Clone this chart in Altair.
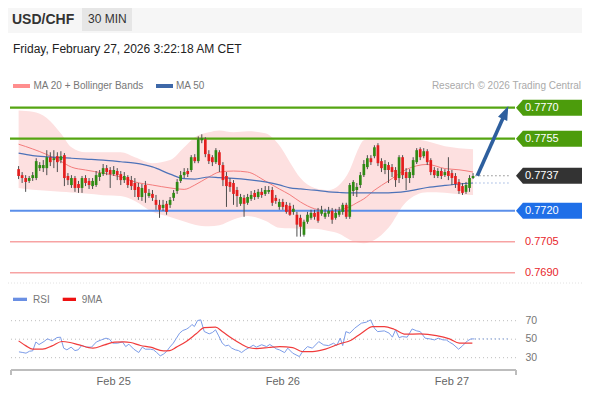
import altair as alt
import pandas as pd

# ---------------- data ----------------
# 30-minute bars; bar position 28 = Feb 25 00:00, 76 = Feb 26, 124 = Feb 27
bar_pos = list(range(1, 131))
opens = [0.77402, 0.77373, 0.77359, 0.77345, 0.77359, 0.77359, 0.77407, 0.77407, 0.77407, 0.77460,
         0.77446, 0.77465, 0.77446, 0.77470, 0.77369, 0.77325, 0.77359, 0.77330, 0.77311, 0.77359,
         0.77345, 0.77320, 0.77325, 0.77364, 0.77378, 0.77407, 0.77398, 0.77378, 0.77393, 0.77378,
         0.77349, 0.77364, 0.77349, 0.77335, 0.77316, 0.77267, 0.77325, 0.77272, 0.77282, 0.77253,
         0.77229, 0.77214, 0.77234, 0.77229, 0.77263, 0.77296, 0.77345, 0.77373, 0.77393, 0.77398,
         0.77460, 0.77441, 0.77542, 0.77547, 0.77475, 0.77460, 0.77436, 0.77484, 0.77422, 0.77369,
         0.77340, 0.77335, 0.77301, 0.77234, 0.77263, 0.77239, 0.77258, 0.77287, 0.77267, 0.77292,
         0.77282, 0.77292, 0.77301, 0.77263, 0.77219, 0.77243, 0.77229, 0.77224, 0.77195, 0.77181,
         0.77166, 0.77084, 0.77147, 0.77166, 0.77190, 0.77195, 0.77186, 0.77171, 0.77186, 0.77200,
         0.77166, 0.77181, 0.77195, 0.77229, 0.77171, 0.77296, 0.77301, 0.77325, 0.77373, 0.77412,
         0.77455, 0.77465, 0.77518, 0.77441, 0.77398, 0.77422, 0.77412, 0.77398, 0.77359, 0.77460,
         0.77388, 0.77359, 0.77373, 0.77436, 0.77499, 0.77465, 0.77489, 0.77446, 0.77398, 0.77369,
         0.77393, 0.77373, 0.77393, 0.77383, 0.77369, 0.77340, 0.77320, 0.77292, 0.77311, 0.77359]
highs = [0.77417, 0.77388, 0.77373, 0.77369, 0.77388, 0.77455, 0.77436, 0.77446, 0.77494, 0.77484,
         0.77494, 0.77484, 0.77489, 0.77480, 0.77383, 0.77373, 0.77369, 0.77345, 0.77369, 0.77373,
         0.77359, 0.77359, 0.77393, 0.77398, 0.77427, 0.77422, 0.77412, 0.77417, 0.77407, 0.77393,
         0.77388, 0.77373, 0.77369, 0.77359, 0.77335, 0.77330, 0.77345, 0.77306, 0.77301, 0.77277,
         0.77253, 0.77253, 0.77248, 0.77267, 0.77301, 0.77354, 0.77393, 0.77407, 0.77407, 0.77470,
         0.77475, 0.77561, 0.77571, 0.77557, 0.77494, 0.77470, 0.77504, 0.77494, 0.77436, 0.77388,
         0.77359, 0.77349, 0.77316, 0.77282, 0.77277, 0.77282, 0.77296, 0.77301, 0.77306, 0.77311,
         0.77320, 0.77320, 0.77316, 0.77277, 0.77258, 0.77258, 0.77243, 0.77239, 0.77229, 0.77195,
         0.77181, 0.77157, 0.77195, 0.77205, 0.77205, 0.77214, 0.77224, 0.77210, 0.77219, 0.77214,
         0.77210, 0.77219, 0.77239, 0.77239, 0.77335, 0.77349, 0.77335, 0.77388, 0.77446, 0.77470,
         0.77470, 0.77518, 0.77528, 0.77455, 0.77446, 0.77436, 0.77427, 0.77412, 0.77470, 0.77470,
         0.77407, 0.77402, 0.77460, 0.77504, 0.77508, 0.77504, 0.77499, 0.77455, 0.77412, 0.77407,
         0.77407, 0.77402, 0.77460, 0.77398, 0.77383, 0.77354, 0.77335, 0.77340, 0.77373, 0.77383]
lows = [0.77354, 0.77335, 0.77292, 0.77335, 0.77345, 0.77349, 0.77393, 0.77388, 0.77373, 0.77417,
        0.77407, 0.77388, 0.77431, 0.77320, 0.77325, 0.77311, 0.77292, 0.77287, 0.77287, 0.77320,
        0.77306, 0.77306, 0.77316, 0.77345, 0.77369, 0.77373, 0.77311, 0.77369, 0.77349, 0.77325,
        0.77335, 0.77311, 0.77301, 0.77267, 0.77253, 0.77248, 0.77239, 0.77263, 0.77248, 0.77205,
        0.77166, 0.77200, 0.77181, 0.77214, 0.77248, 0.77282, 0.77335, 0.77359, 0.77364, 0.77388,
        0.77431, 0.77431, 0.77528, 0.77460, 0.77427, 0.77417, 0.77427, 0.77388, 0.77320, 0.77219,
        0.77292, 0.77229, 0.77219, 0.77224, 0.77171, 0.77229, 0.77248, 0.77253, 0.77258, 0.77263,
        0.77272, 0.77282, 0.77224, 0.77234, 0.77205, 0.77205, 0.77186, 0.77176, 0.77181, 0.77075,
        0.77075, 0.77075, 0.77137, 0.77157, 0.77157, 0.77142, 0.77176, 0.77161, 0.77171, 0.77137,
        0.77157, 0.77171, 0.77181, 0.77161, 0.77161, 0.77272, 0.77267, 0.77311, 0.77364, 0.77402,
        0.77422, 0.77455, 0.77417, 0.77388, 0.77378, 0.77335, 0.77364, 0.77316, 0.77335, 0.77354,
        0.77301, 0.77335, 0.77359, 0.77427, 0.77446, 0.77455, 0.77422, 0.77373, 0.77359, 0.77359,
        0.77354, 0.77364, 0.77349, 0.77325, 0.77311, 0.77282, 0.77277, 0.77282, 0.77292, 0.77354]
closes = [0.77369, 0.77359, 0.77340, 0.77359, 0.77373, 0.77441, 0.77422, 0.77422, 0.77460, 0.77436,
          0.77455, 0.77436, 0.77465, 0.77359, 0.77349, 0.77359, 0.77311, 0.77311, 0.77359, 0.77335,
          0.77325, 0.77345, 0.77373, 0.77383, 0.77407, 0.77388, 0.77378, 0.77398, 0.77373, 0.77349,
          0.77369, 0.77325, 0.77320, 0.77301, 0.77267, 0.77311, 0.77287, 0.77287, 0.77263, 0.77229,
          0.77205, 0.77229, 0.77195, 0.77253, 0.77287, 0.77340, 0.77373, 0.77388, 0.77378, 0.77460,
          0.77441, 0.77547, 0.77552, 0.77475, 0.77441, 0.77436, 0.77494, 0.77422, 0.77349, 0.77320,
          0.77316, 0.77282, 0.77272, 0.77267, 0.77234, 0.77267, 0.77277, 0.77267, 0.77292, 0.77277,
          0.77301, 0.77301, 0.77239, 0.77248, 0.77243, 0.77219, 0.77195, 0.77181, 0.77210, 0.77133,
          0.77123, 0.77147, 0.77181, 0.77190, 0.77171, 0.77152, 0.77205, 0.77190, 0.77200, 0.77157,
          0.77190, 0.77200, 0.77229, 0.77171, 0.77325, 0.77340, 0.77316, 0.77373, 0.77427, 0.77455,
          0.77436, 0.77508, 0.77431, 0.77407, 0.77427, 0.77398, 0.77388, 0.77349, 0.77460, 0.77373,
          0.77359, 0.77388, 0.77446, 0.77494, 0.77460, 0.77489, 0.77436, 0.77388, 0.77373, 0.77393,
          0.77369, 0.77388, 0.77369, 0.77359, 0.77330, 0.77296, 0.77287, 0.77325, 0.77359, 0.77369]

band_pos = [1, 5, 9, 13, 16, 20, 25, 30, 34, 39, 44, 48, 51, 55, 58, 62, 66, 71, 75, 78,
            81, 85, 89, 92, 95, 97, 99, 102, 106, 111, 117, 122, 126, 130]
bb_upper = [0.77687, 0.77680, 0.77650, 0.77575, 0.77508, 0.77484, 0.77484, 0.77484, 0.77460, 0.77431,
            0.77446, 0.77508, 0.77557, 0.77581, 0.77590, 0.77581, 0.77586, 0.77576, 0.77518, 0.77436,
            0.77359, 0.77311, 0.77301, 0.77325, 0.77398, 0.77484, 0.77542, 0.77552, 0.77552, 0.77552,
            0.77537, 0.77513, 0.77504, 0.77499]
bb_lower = [0.77311, 0.77302, 0.77297, 0.77292, 0.77289, 0.77284, 0.77276, 0.77272, 0.77248, 0.77195,
            0.77170, 0.77148, 0.77133, 0.77125, 0.77130, 0.77158, 0.77175, 0.77152, 0.77118, 0.77115,
            0.77113, 0.77113, 0.77102, 0.77089, 0.77060, 0.77048, 0.77043, 0.77058, 0.77118, 0.77243,
            0.77290, 0.77288, 0.77281, 0.77277]
ma20 = [0.77523, 0.77500, 0.77473, 0.77440, 0.77412, 0.77398, 0.77383, 0.77364, 0.77340, 0.77325,
        0.77311, 0.77304, 0.77325, 0.77364, 0.77388, 0.77393, 0.77388, 0.77345, 0.77306, 0.77278,
        0.77243, 0.77210, 0.77200, 0.77206, 0.77220, 0.77239, 0.77258, 0.77300, 0.77345, 0.77400,
        0.77425, 0.77405, 0.77399, 0.77388]
ma50 = [0.77480, 0.77468, 0.77462, 0.77458, 0.77455, 0.77451, 0.77446, 0.77438, 0.77431, 0.77413,
        0.77378, 0.77356, 0.77354, 0.77364, 0.77361, 0.77357, 0.77351, 0.77340, 0.77326, 0.77311,
        0.77306, 0.77300, 0.77292, 0.77289, 0.77287, 0.77287, 0.77287, 0.77287, 0.77287, 0.77294,
        0.77313, 0.77323, 0.77330, 0.77335]

rsi_pos = [1.1, 2.2, 3.1, 4.1, 5.0, 5.9, 6.8, 8.2, 9.2, 10.5,
           11.9, 12.9, 13.8, 14.7, 15.9, 17.0, 17.9, 18.9, 20.3, 21.7,
           23.1, 24.5, 25.8, 26.8, 27.7, 29.1, 30.5, 31.4, 32.3, 33.7,
           35.1, 36.1, 37.0, 38.4, 39.3, 40.2, 41.2, 42.1, 43.0, 43.9,
           44.9, 45.8, 46.7, 47.6, 48.6, 49.5, 50.2, 50.9, 51.8, 52.7,
           53.7, 55.1, 56.0, 56.9, 57.8, 58.8, 59.7, 60.6, 61.5, 62.5,
           63.4, 64.3, 65.3, 66.7, 67.6, 68.5, 70.0, 71.4, 72.3, 74.2,
           75.1, 76.5, 77.4, 78.8, 80.7, 81.6, 83.0, 84.4, 86.2, 87.6,
           89.0, 90.4, 91.3, 92.3, 93.0, 93.9, 95.0, 96.4, 98.3, 99.7,
           100.9, 102.0, 102.9, 104.8, 106.2, 107.1, 108.0, 109.0, 109.9, 111.3,
           112.7, 114.0, 115.0, 116.4, 117.8, 119.1, 120.1, 121.5, 122.4, 123.3,
           124.3, 125.9, 127.0, 128.4, 129.4, 130.3]
rsi_val = [36.3, 35.6, 34.9, 37.0, 37.4, 47.0, 44.2, 47.5, 50.4, 48.2,
           51.8, 52.2, 40.3, 38.5, 41.4, 37.7, 38.5, 43.2, 41.4, 41.4,
           47.1, 49.3, 51.1, 50.0, 45.7, 45.7, 47.1, 42.0, 44.6, 39.2,
           35.6, 41.4, 39.2, 39.2, 38.5, 35.6, 32.0, 33.8, 36.7, 41.4,
           45.7, 51.1, 56.5, 59.4, 60.8, 63.0, 65.9, 63.7, 70.2, 70.9,
           58.3, 55.8, 57.2, 60.1, 53.6, 45.7, 42.8, 43.5, 40.3, 38.5,
           37.7, 35.6, 38.5, 41.4, 43.5, 41.4, 44.0, 42.0, 44.3, 39.5,
           38.4, 35.5, 40.3, 34.9, 31.2, 36.6, 42.0, 40.3, 47.4, 43.8,
           43.1, 45.7, 43.1, 51.1, 43.1, 58.2, 56.5, 61.9, 67.3, 68.4,
           70.9, 61.9, 58.2, 59.0, 56.5, 52.2, 60.1, 51.7, 52.8, 52.2,
           61.1, 59.0, 58.2, 51.1, 50.3, 49.2, 51.1, 49.2, 49.2, 46.8,
           44.6, 39.2, 42.8, 48.2, 50.3, 50.3]
ma9_pos = [1.0, 3.1, 5.0, 7.8, 10.5, 13.3, 15.6, 17.9, 22.1, 25.4, 28.2, 30.9, 32.8, 35.6, 38.4,
           42.1, 43.9, 45.8, 48.6, 51.4, 53.7, 56.9, 58.8, 61.5, 64.3, 66.2, 68.5, 72.0, 75.1, 78.8,
           81.5, 84.4, 88.1, 91.8, 95.5, 98.3, 101.5, 104.8, 107.6, 110.8, 114.9, 119.6, 123.3, 126.1, 129.8]
ma9_val = [48.2, 42.8, 39.2, 39.2, 42.8, 47.5, 46.4, 44.2, 40.3, 43.9, 46.8, 47.1, 46.4, 43.2, 41.4,
           37.4, 37.7, 41.4, 47.5, 55.8, 62.6, 63.0, 58.3, 51.1, 44.6, 41.0, 39.9, 41.0, 42.0, 40.9,
           36.6, 36.6, 39.2, 44.6, 49.2, 56.5, 63.6, 63.6, 60.8, 55.4, 55.7, 53.9, 50.3, 45.7, 45.7]

resistance = [0.7770, 0.7755]
pivot = [0.7720]
support = [0.7705, 0.7690]
last_price = 0.7737
day_pos = [28, 76, 124]
day_labels = ["Feb 25", "Feb 26", "Feb 27"]
rsi_grid = [30, 50, 70]
arrow_pos = [131.2, 139.2]
arrow_price = [0.7737, 0.77677]

# ---------------- helpers ----------------
FONT = "Liberation Sans"
XS = alt.Scale(domain=[0.26, 140.77], nice=False, zero=False)
PS = alt.Scale(domain=[0.764283, 0.781834], nice=False, zero=False)
RS = alt.Scale(domain=[16.7, 408.05], nice=False, zero=False)


def X(f="t"):
    return alt.X(f"{f}:Q", scale=XS, axis=None)


def PY(f):
    return alt.Y(f"{f}:Q", scale=PS, axis=None)


def RY(f):
    return alt.Y(f"{f}:Q", scale=RS, axis=None)


one = pd.DataFrame({"d": [0]})


def vtext(txt, x, y, **kw):
    kw.setdefault("font", FONT)
    kw.setdefault("align", "left")
    kw.setdefault("baseline", "middle")
    return alt.Chart(one).mark_text(text=txt, **kw).encode(x=alt.value(x), y=alt.value(y))


def vrect(x, x2, y, y2, color):
    return alt.Chart(one).mark_rect(color=color).encode(
        x=alt.value(x), x2=alt.value(x2), y=alt.value(y), y2=alt.value(y2))


def vrule(x, x2, y, y2, color, width=1, dash=None):
    kw = dict(color=color, strokeWidth=width)
    if dash:
        kw["strokeDash"] = dash
    return alt.Chart(one).mark_rule(**kw).encode(
        x=alt.value(x), x2=alt.value(x2), y=alt.value(y), y2=alt.value(y2))


candles = pd.DataFrame({"t": bar_pos, "open": opens, "high": highs, "low": lows, "close": closes})
up = candles[candles["close"] >= candles["open"]]
down = candles[candles["close"] < candles["open"]]
bands = pd.DataFrame({"t": band_pos, "upper": bb_upper, "lower": bb_lower, "ma20": ma20, "ma50": ma50})
rsi_df = pd.DataFrame({"t": rsi_pos, "rsi": rsi_val})
ma9_df = pd.DataFrame({"t": ma9_pos, "v": ma9_val})

TAG = "M-1,0L-0.79,-0.242L1,-0.242L1,0.242L-0.79,0.242Z"
TAG_X = 538
TAG_SIZE = 4356

layers = [
    # header
    vrect(-3, 571, 0, 25, "#f6f6f6"),
    vrect(71, 121, 0, 23, "#e6e6e6"),
    vtext("USD/CHF", 1, 16.3, fontSize=14, fontWeight="bold", color="#333333", baseline="alphabetic"),
    vtext("30 MIN", 77, 14.5, fontSize=12, color="#333333", baseline="alphabetic"),
    vtext("Friday, February 27, 2026 3:22:18 AM CET", 2, 45.3, fontSize=12, color="#222222",
          baseline="alphabetic"),
    # legend
    vrect(2, 19, 76, 80, "#ff8e8e"),
    vtext("MA 20 + Bollinger Bands", 22.5, 78, fontSize=10, color="#777777"),
    vrect(145, 162, 76, 80, "#3e68a8"),
    vtext("MA 50", 165, 78, fontSize=10, color="#777777"),
    vtext("Research \u00a9 2026 Trading Central", 570, 78, fontSize=10, color="#aaaaaa", align="right"),
    # Bollinger band and moving averages
    alt.Chart(bands).mark_area(color="#fde0e0", interpolate="monotone").encode(
        x=X(), y=PY("upper"), y2=alt.Y2("lower")),
    alt.Chart(bands).mark_line(color="#f47c7c", strokeWidth=1, interpolate="monotone").encode(
        x=X(), y=PY("ma20")),
    alt.Chart(bands).mark_line(color="#4d72b8", strokeWidth=1.2, interpolate="monotone").encode(
        x=X(), y=PY("ma50")),
    # levels
    alt.Chart(pd.DataFrame({"p": resistance})).mark_rule(color="#55a512", strokeWidth=2.2).encode(
        x=alt.value(-1), x2=alt.value(504), y=PY("p")),
    alt.Chart(pd.DataFrame({"p": pivot})).mark_rule(color="#5b8fea", strokeWidth=2).encode(
        x=alt.value(-1), x2=alt.value(504), y=PY("p")),
    alt.Chart(pd.DataFrame({"p": support})).mark_rule(color="#f7a3a3", strokeWidth=1.6).encode(
        x=alt.value(-1), x2=alt.value(504), y=PY("p")),
    # candles
    alt.Chart(candles).mark_rule(color="#4d4d4d", strokeWidth=1).encode(
        x=X(), y=PY("low"), y2=alt.Y2("high")),
    alt.Chart(up).mark_bar(size=2.7, color="#2f8a14").encode(x=X(), y=PY("open"), y2=alt.Y2("close")),
    alt.Chart(down).mark_bar(size=2.7, color="#e41e1e").encode(x=X(), y=PY("open"), y2=alt.Y2("close")),
    # dotted extensions
    alt.Chart(pd.DataFrame({"t": [130.6], "t2": [140.6], "p": [last_price]})).mark_rule(
        color="#8c8c8c", strokeWidth=1.2, strokeDash=[1.5, 2.5]).encode(x=X(), x2="t2", y=PY("p")),
    alt.Chart(pd.DataFrame({"t": [130.6], "t2": [140.6], "p": [ma50[-1]]})).mark_rule(
        color="#9db4e0", strokeWidth=1.2, strokeDash=[1.5, 2.5]).encode(x=X(), x2="t2", y=PY("p")),
    # arrow
    alt.Chart(pd.DataFrame({"t": arrow_pos, "p": arrow_price})).mark_line(
        color="#2e5f9e", strokeWidth=3.6).encode(x=X(), y=PY("p")),
    alt.Chart(pd.DataFrame({"t": arrow_pos[1:], "p": arrow_price[1:]})).mark_point(
        shape="M0,-1L0.72,1L-0.72,1Z", filled=True, size=196, angle=24, color="#2e5f9e",
        opacity=1).encode(x=X(), y=PY("p")),
    # tags
    alt.Chart(pd.DataFrame({"p": resistance})).mark_point(
        shape=TAG, filled=True, size=TAG_SIZE, opacity=1, color="#4c9c0c", strokeWidth=0).encode(
        x=alt.value(TAG_X), y=PY("p")),
    alt.Chart(pd.DataFrame({"p": [last_price]})).mark_point(
        shape=TAG, filled=True, size=TAG_SIZE, opacity=1, color="#333333", strokeWidth=0).encode(
        x=alt.value(TAG_X), y=PY("p")),
    alt.Chart(pd.DataFrame({"p": pivot})).mark_point(
        shape=TAG, filled=True, size=TAG_SIZE, opacity=1, color="#1f6fe8", strokeWidth=0).encode(
        x=alt.value(TAG_X), y=PY("p")),
    alt.Chart(pd.DataFrame({"p": resistance + [last_price] + pivot,
                            "lab": ["0.7770", "0.7755", "0.7737", "0.7720"]})).mark_text(
        font=FONT, fontSize=11, color="white", align="left", baseline="middle").encode(
        x=alt.value(514), y=PY("p"), text="lab:N"),
    alt.Chart(pd.DataFrame({"p": support, "lab": ["0.7705", "0.7690"]})).mark_text(
        font=FONT, fontSize=11, color="#e8262b", align="left", baseline="middle").encode(
        x=alt.value(514), y=PY("p"), text="lab:N"),
    # separator
    vrule(-3, 571, 275, 275, "#e2e2e2", 1, [1, 2]),
    # RSI panel
    vrect(2, 16, 289.7, 293, "#6a8fe3"),
    vtext("RSI", 22, 291.5, fontSize=10, color="#777777"),
    vrect(51.7, 65, 289.7, 293, "#ee1111"),
    vtext("9MA", 70.7, 291.5, fontSize=10, color="#777777"),
    alt.Chart(pd.DataFrame({"v": rsi_grid})).mark_rule(color="#bdbdbd", strokeDash=[1, 3]).encode(
        x=alt.value(0), x2=alt.value(505), y=RY("v")),
    alt.Chart(pd.DataFrame({"v": rsi_grid})).mark_text(
        font=FONT, fontSize=10.5, color="#777777", align="left", baseline="middle").encode(
        x=alt.value(514.5), y=RY("v"), text="v:Q"),
    alt.Chart(rsi_df).mark_line(color="#7c9ce8", strokeWidth=1).encode(x=X(), y=RY("rsi")),
    alt.Chart(ma9_df).mark_line(color="#f03c3c", strokeWidth=1.2, interpolate="monotone").encode(
        x=X(), y=RY("v")),
    alt.Chart(pd.DataFrame({"t": [130.4], "t2": [140.6], "v": [rsi_val[-1]]})).mark_rule(
        color="#9db4e0", strokeWidth=1.2, strokeDash=[1.5, 2.5]).encode(x=X(), x2="t2", y=RY("v")),
    # x axis
    vrule(0, 505, 362, 362, "#bdbdbd", 2),
    vrule(0, 0, 362, 367, "#bdbdbd", 2),
    vrule(505, 505, 362, 367, "#bdbdbd", 2),
    alt.Chart(pd.DataFrame({"t": day_pos, "lab": day_labels})).mark_text(
        font=FONT, fontSize=11, color="#666666", baseline="alphabetic").encode(
        x=X(), y=alt.value(376.5), text="lab:N"),
]

chart = (
    alt.layer(*layers)
    .resolve_scale(y="independent")
    .properties(width=505, height=362,
                padding={"left": 3, "top": 0, "right": 66, "bottom": 15},
                autosize=alt.AutoSizeParams(type="none"))
    .configure(font=FONT)
    .configure_view(stroke=None)
)

chart.save("out.html", embed_options={"renderer": "svg", "actions": False})
